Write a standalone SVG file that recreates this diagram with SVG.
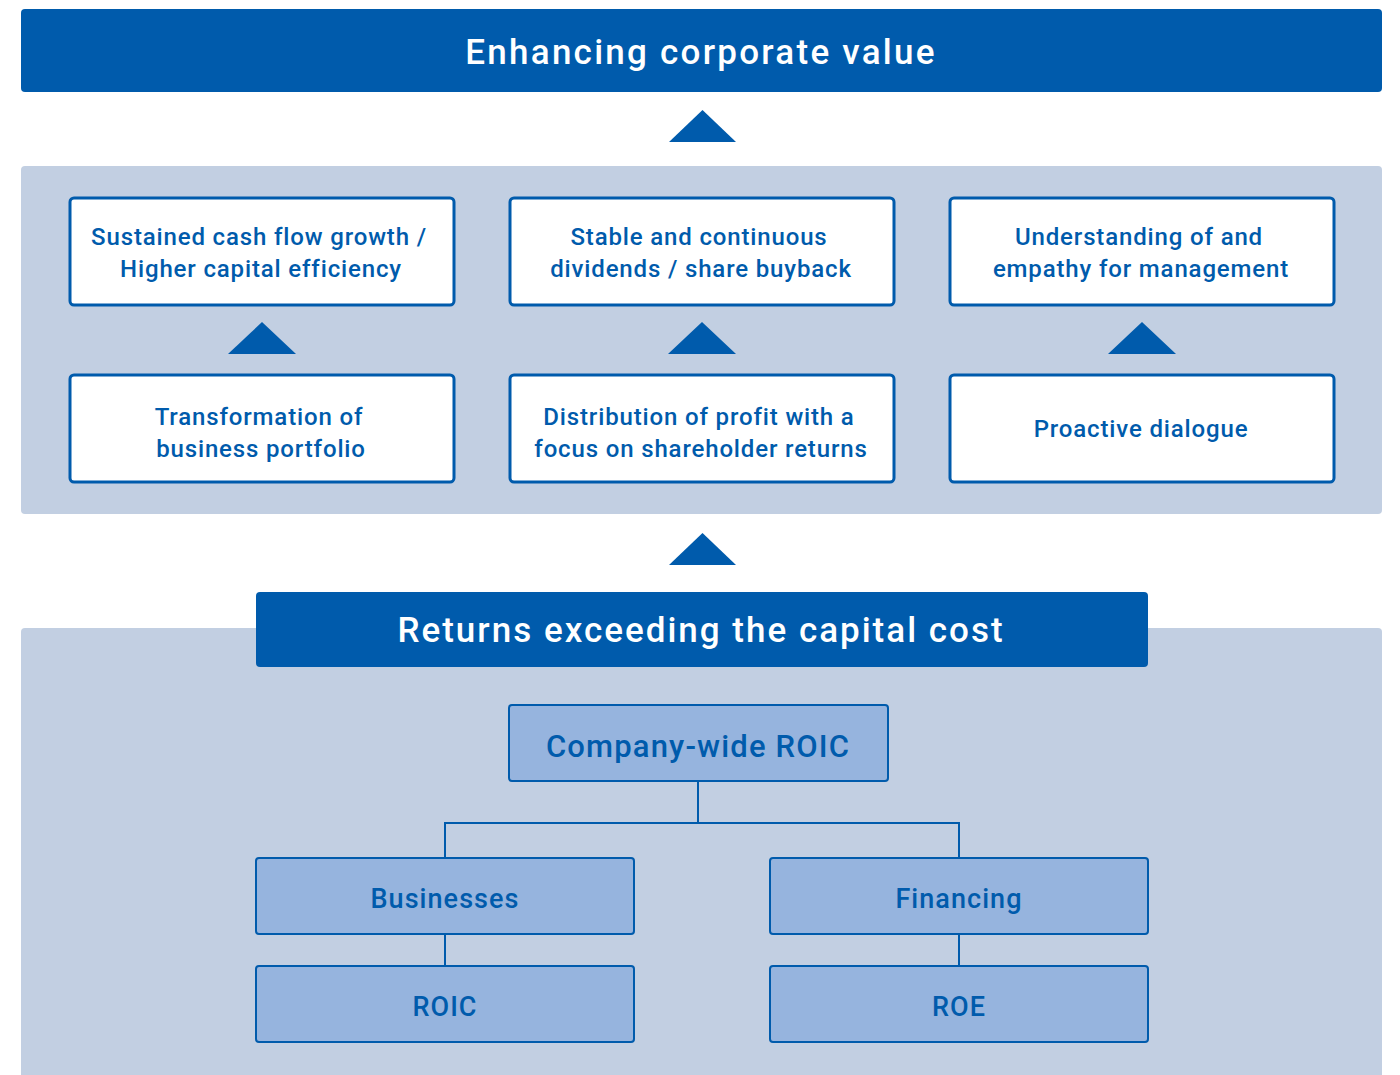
<svg xmlns="http://www.w3.org/2000/svg" width="1400" height="1075" viewBox="0 0 1400 1075">
<style>
.banner{fill:#005BAC}
.panel{fill:#C2CFE2}
.wbox{fill:#FFFFFF;stroke:#005BAC;stroke-width:3}
.lbox{fill:#96B4DE;stroke:#005BAC;stroke-width:2}
.tri{fill:#005BAC}
.conn{fill:none;stroke:#005BAC;stroke-width:2}
.t{font-family:Roboto,"Liberation Sans",sans-serif;font-weight:500;fill:#005BAC;text-anchor:middle}
.wt{font-size:24px;letter-spacing:0.85px}
.big{font-family:Roboto,"Liberation Sans",sans-serif;font-weight:500;fill:#FFFFFF;text-anchor:middle;font-size:35px}
.lt{font-size:27px;letter-spacing:1.05px}
</style>
<rect x="0" y="0" width="1400" height="1075" fill="#FFFFFF"/>
<rect class="panel" x="21" y="166" width="1361" height="348" rx="4"/>
<rect class="panel" x="21" y="628" width="1361" height="460" rx="4"/>

<g id="enhancing">
<rect class="banner" x="21" y="9" width="1361" height="83" rx="4"/>
<text class="big" x="701" y="64" style="letter-spacing:2.25px">Enhancing corporate value</text>
</g>

<g id="connectors">
<polygon class="tri" points="669,142 736,142 702.5,110"/>
<polygon class="tri" points="228,354 296,354 262,322"/>
<polygon class="tri" points="668,354 736,354 702,322"/>
<polygon class="tri" points="1108,354 1176,354 1142,322"/>
<polygon class="tri" points="669,565 736,565 702.5,533"/>
<path class="conn" d="M698,781 V823 M445,823 H959 M445,822 V858 M959,822 V858 M445,934 V966 M959,934 V966"/>
</g>

<g id="cashflow">
<rect class="wbox" x="70" y="198" width="384" height="107" rx="4"/>
<text class="t wt" x="259" y="245">Sustained cash flow growth /</text>
<text class="t wt" x="261" y="277">Higher capital efficiency</text>
</g>
<g id="dividends">
<rect class="wbox" x="510" y="198" width="384" height="107" rx="4"/>
<text class="t wt" x="699" y="245">Stable and continuous</text>
<text class="t wt" x="701" y="277">dividends / share buyback</text>
</g>
<g id="empathy">
<rect class="wbox" x="950" y="198" width="384" height="107" rx="4"/>
<text class="t wt" x="1139" y="245">Understanding of and</text>
<text class="t wt" x="1141" y="277">empathy for management</text>
</g>
<g id="transformation">
<rect class="wbox" x="70" y="375" width="384" height="107" rx="4"/>
<text class="t wt" x="259" y="425">Transformation of</text>
<text class="t wt" x="261" y="457">business portfolio</text>
</g>
<g id="distribution">
<rect class="wbox" x="510" y="375" width="384" height="107" rx="4"/>
<text class="t wt" x="699" y="425">Distribution of profit with a</text>
<text class="t wt" x="701" y="457">focus on shareholder returns</text>
</g>
<g id="dialogue">
<rect class="wbox" x="950" y="375" width="384" height="107" rx="4"/>
<text class="t wt" x="1141" y="437">Proactive dialogue</text>
</g>

<g id="returns">
<rect class="banner" x="256" y="592" width="892" height="75" rx="4"/>
<text class="big" x="701" y="642" style="letter-spacing:2px">Returns exceeding the capital cost</text>
</g>
<g id="company-roic">
<rect class="lbox" x="509" y="705" width="379" height="76" rx="3"/>
<text class="t" x="698" y="757" style="font-size:31px;letter-spacing:1.15px">Company-wide ROIC</text>
</g>
<g id="businesses">
<rect class="lbox" x="256" y="858" width="378" height="76" rx="3"/>
<text class="t lt" x="445" y="908">Businesses</text>
</g>
<g id="financing">
<rect class="lbox" x="770" y="858" width="378" height="76" rx="3"/>
<text class="t lt" x="959" y="908">Financing</text>
</g>
<g id="roic">
<rect class="lbox" x="256" y="966" width="378" height="76" rx="3"/>
<text class="t lt" x="445" y="1016">ROIC</text>
</g>
<g id="roe">
<rect class="lbox" x="770" y="966" width="378" height="76" rx="3"/>
<text class="t lt" x="959" y="1016">ROE</text>
</g>
</svg>
